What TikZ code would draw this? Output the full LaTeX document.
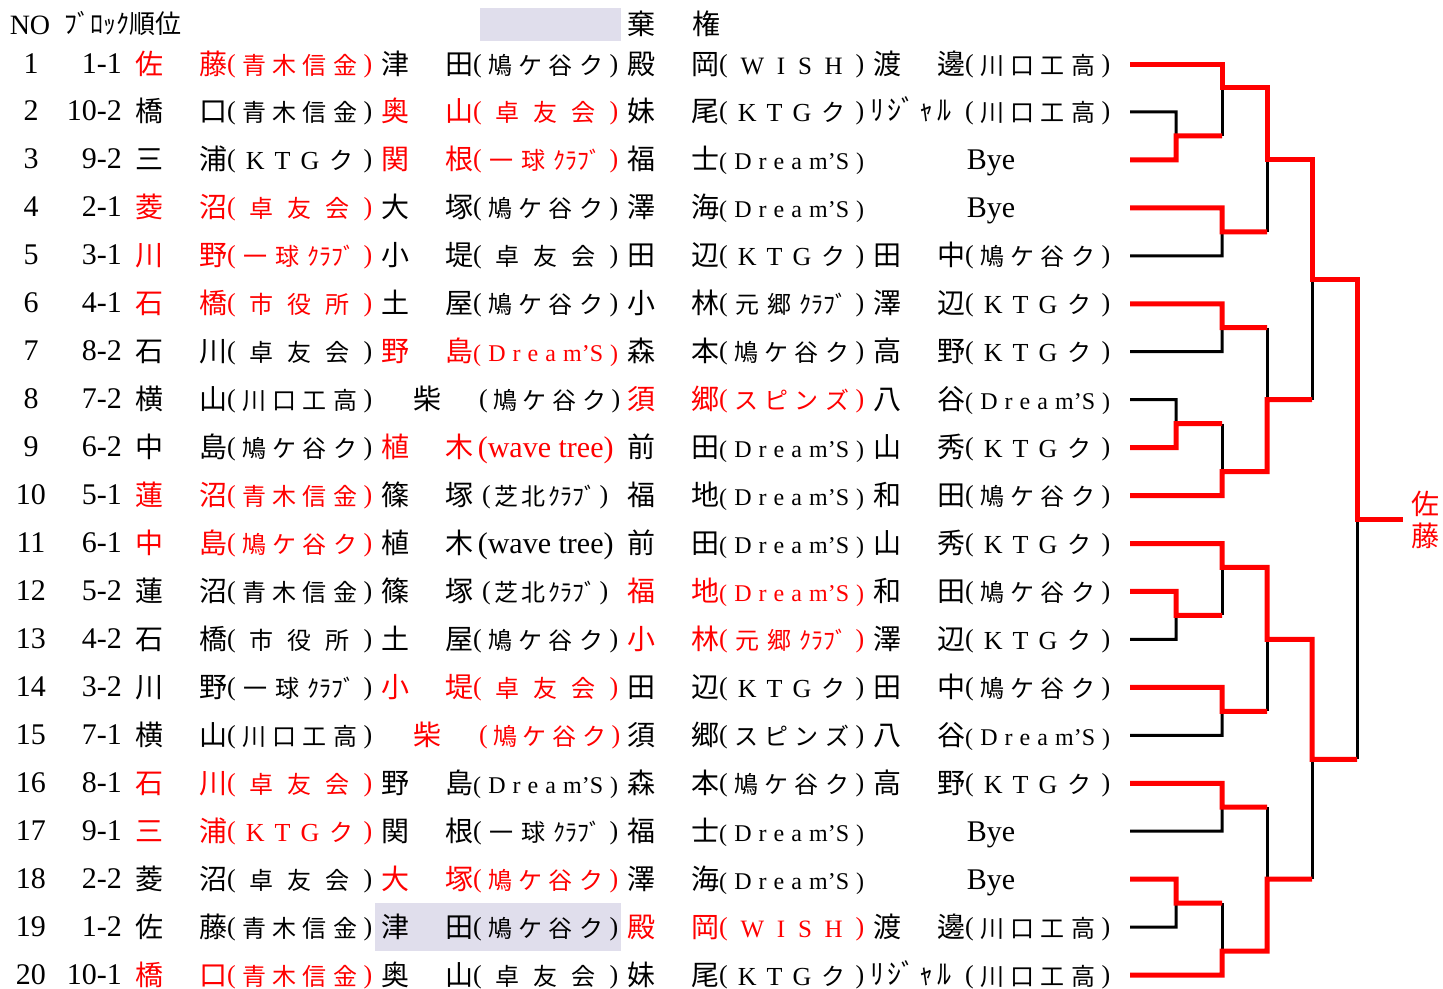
\documentclass[tikz,border=0pt]{standalone}
\usepackage{fontspec}
\setmainfont{Liberation Serif}
\newfontfamily\jp{Noto Sans CJK JP}
\newfontfamily\lat{Liberation Serif}
\definecolor{gbg}{RGB}{224,222,236}
\newcommand\LP{\raisebox{2pt}{\lat\fontsize{26pt}{28pt}\selectfont(}}
\newcommand\RP{\raisebox{2pt}{\lat\fontsize{26pt}{28pt}\selectfont)}}
\newcommand\hf{\hfill}
\newcommand\latx[1]{{\lat\fontsize{26pt}{28pt}\selectfont #1}}
\newcommand\latw[1]{{\lat\fontsize{25pt}{27pt}\selectfont #1}}
\newcommand\cAO{\LP\hf 青\hf 木\hf 信\hf 金\hf\RP}
\newcommand\cHA{\LP\hf 鳩\hf ケ\hf 谷\hf ク\hf\RP}
\newcommand\cTA{\LP\hf 卓\hf 友\hf 会\hf\RP}
\newcommand\cKT{\LP\hf\latx{K}\hf\latx{T}\hf\latx{G}\hf ク\hf\RP}
\newcommand\cIK{\LP\hf 一\hf 球\hf ｸﾗﾌﾞ\hf\RP}
\newcommand\cDR{{\lat\fontsize{24pt}{26pt}\selectfont (\hf D\hf r\hf e\hf a\hf m’S\hf)}}
\newcommand\cKW{\LP\hf 川\hf 口\hf 工\hf 高\hf\RP}
\newcommand\cWI{\LP\hf\latw{W}\hf\latw{I}\hf\latw{S}\hf\latw{H}\hf\RP}
\newcommand\cSH{\LP\hf 市\hf 役\hf 所\hf\RP}
\newcommand\cMO{\LP\hf 元\hf 郷\hf ｸﾗﾌﾞ\hf\RP}
\newcommand\cSP{\LP\hf ス\hf ピ\hf ン\hf ズ\hf\RP}
\newcommand\cSB{\hspace{9pt}\LP\hf 芝\hf 北\hf ｸﾗﾌﾞ\hf\RP\hspace{10pt}}
\newcommand\cWT{{\lat\fontsize{30pt}{32pt}\selectfont\hfil(wave tree)\hfil}}
\newcommand\K[1]{{64+23.975*#1}}
\newcommand\pl[6]{%
\node[nm,text=#3] (r#1c#2a) at ({149+246*(#2-1)},{74+47.95*(#1-1)}) {#4};
\node[nm,text=#3] (r#1c#2b) at ({213+246*(#2-1)},{74+47.95*(#1-1)}) {#5};
\node[clb,text=#3] (r#1c#2c) at ({227+246*(#2-1)},{74+47.95*(#1-1)}) {\hbox to 145pt{#6}};}
\newcommand\rw[2]{%
\node[num] (no#1) at (31,{73+47.95*(#1-1)}) {#1};
\node[num,anchor=base east] (bk#1) at (122,{73+47.95*(#1-1)}) {#2};
\coordinate (e#1) at (1130,{64+47.95*(#1-1)});}
\newcommand\bye[1]{\node[byef] (bye#1) at (991,{74+47.95*(#1-1)}) {Bye};}
\newcommand\rij[2]{%
\node[nm,text=#2] (r#1c4a) at (911,{73+47.95*(#1-1)}) {\hbox to 82pt{ﾘ\hfill ｼﾞ\hfill ｬ\hfill ﾙ}};
\node[clb,text=#2] (r#1c4c) at (965,{74+47.95*(#1-1)}) {\hbox to 145pt{\cKW}};}
\newcommand\shiba[2]{%
\node[nm,text=#2] (r#1c2a) at (427,{74+47.95*(#1-1)}) {柴};
\node[clb,text=#2] (r#1c2c) at (479,{74+47.95*(#1-1)}) {\hbox to 141pt{\cHA}};}
\begin{document}
\begin{tikzpicture}[x=1pt,y=-1pt,
  nm/.style={font=\jp\fontsize{28pt}{30pt}\selectfont, inner sep=0pt, anchor=base},
  clb/.style={font=\jp\fontsize{24pt}{26pt}\selectfont, inner sep=0pt, anchor=base west},
  num/.style={font=\lat\fontsize{30pt}{32pt}\selectfont, inner sep=0pt, anchor=base},
  byef/.style={font=\lat\fontsize{30pt}{32pt}\selectfont, inner sep=0pt, anchor=base},
  gbox/.style={fill=gbg, draw=none, inner sep=0pt},
  bk/.style={draw=black, line width=3pt, line join=miter},
  rd/.style={draw=red, line width=5pt, line join=miter}]
\useasboundingbox (0,0) rectangle (1443,988);
% shaded boxes
\node[gbox, minimum width=141pt, minimum height=33pt] (legend) at (550.5,24.5) {};
\node[gbox, minimum width=246pt, minimum height=48pt] (absent) at (498,{\K{36}}) {};
% header
\node[font=\lat\fontsize{28pt}{30pt}\selectfont, inner sep=0pt, anchor=base] (hno) at (30,34) {NO};
\node[font=\jp\fontsize{26pt}{28pt}\selectfont, inner sep=0pt, anchor=base west] (hblk) at (64,33) {ﾌﾞﾛｯｸ順位};
\node[nm] (hki) at (641,34) {棄};
\node[nm] (hken) at (706,34) {権};
% rows
\rw{1}{1-1}\pl{1}{1}{red}{佐}{藤}{\cAO}\pl{1}{2}{black}{津}{田}{\cHA}\pl{1}{3}{black}{殿}{岡}{\cWI}\pl{1}{4}{black}{渡}{邊}{\cKW}
\rw{2}{10-2}\pl{2}{1}{black}{橋}{口}{\cAO}\pl{2}{2}{red}{奥}{山}{\cTA}\pl{2}{3}{black}{妹}{尾}{\cKT}\rij{2}{black}
\rw{3}{9-2}\pl{3}{1}{black}{三}{浦}{\cKT}\pl{3}{2}{red}{関}{根}{\cIK}\pl{3}{3}{black}{福}{士}{\cDR}\bye{3}
\rw{4}{2-1}\pl{4}{1}{red}{菱}{沼}{\cTA}\pl{4}{2}{black}{大}{塚}{\cHA}\pl{4}{3}{black}{澤}{海}{\cDR}\bye{4}
\rw{5}{3-1}\pl{5}{1}{red}{川}{野}{\cIK}\pl{5}{2}{black}{小}{堤}{\cTA}\pl{5}{3}{black}{田}{辺}{\cKT}\pl{5}{4}{black}{田}{中}{\cHA}
\rw{6}{4-1}\pl{6}{1}{red}{石}{橋}{\cSH}\pl{6}{2}{black}{土}{屋}{\cHA}\pl{6}{3}{black}{小}{林}{\cMO}\pl{6}{4}{black}{澤}{辺}{\cKT}
\rw{7}{8-2}\pl{7}{1}{black}{石}{川}{\cTA}\pl{7}{2}{red}{野}{島}{\cDR}\pl{7}{3}{black}{森}{本}{\cHA}\pl{7}{4}{black}{高}{野}{\cKT}
\rw{8}{7-2}\pl{8}{1}{black}{横}{山}{\cKW}\shiba{8}{black}\pl{8}{3}{red}{須}{郷}{\cSP}\pl{8}{4}{black}{八}{谷}{\cDR}
\rw{9}{6-2}\pl{9}{1}{black}{中}{島}{\cHA}\pl{9}{2}{red}{植}{木}{\cWT}\pl{9}{3}{black}{前}{田}{\cDR}\pl{9}{4}{black}{山}{秀}{\cKT}
\rw{10}{5-1}\pl{10}{1}{red}{蓮}{沼}{\cAO}\pl{10}{2}{black}{篠}{塚}{\cSB}\pl{10}{3}{black}{福}{地}{\cDR}\pl{10}{4}{black}{和}{田}{\cHA}
\rw{11}{6-1}\pl{11}{1}{red}{中}{島}{\cHA}\pl{11}{2}{black}{植}{木}{\cWT}\pl{11}{3}{black}{前}{田}{\cDR}\pl{11}{4}{black}{山}{秀}{\cKT}
\rw{12}{5-2}\pl{12}{1}{black}{蓮}{沼}{\cAO}\pl{12}{2}{black}{篠}{塚}{\cSB}\pl{12}{3}{red}{福}{地}{\cDR}\pl{12}{4}{black}{和}{田}{\cHA}
\rw{13}{4-2}\pl{13}{1}{black}{石}{橋}{\cSH}\pl{13}{2}{black}{土}{屋}{\cHA}\pl{13}{3}{red}{小}{林}{\cMO}\pl{13}{4}{black}{澤}{辺}{\cKT}
\rw{14}{3-2}\pl{14}{1}{black}{川}{野}{\cIK}\pl{14}{2}{red}{小}{堤}{\cTA}\pl{14}{3}{black}{田}{辺}{\cKT}\pl{14}{4}{black}{田}{中}{\cHA}
\rw{15}{7-1}\pl{15}{1}{black}{横}{山}{\cKW}\shiba{15}{red}\pl{15}{3}{black}{須}{郷}{\cSP}\pl{15}{4}{black}{八}{谷}{\cDR}
\rw{16}{8-1}\pl{16}{1}{red}{石}{川}{\cTA}\pl{16}{2}{black}{野}{島}{\cDR}\pl{16}{3}{black}{森}{本}{\cHA}\pl{16}{4}{black}{高}{野}{\cKT}
\rw{17}{9-1}\pl{17}{1}{red}{三}{浦}{\cKT}\pl{17}{2}{black}{関}{根}{\cIK}\pl{17}{3}{black}{福}{士}{\cDR}\bye{17}
\rw{18}{2-2}\pl{18}{1}{black}{菱}{沼}{\cTA}\pl{18}{2}{red}{大}{塚}{\cHA}\pl{18}{3}{black}{澤}{海}{\cDR}\bye{18}
\rw{19}{1-2}\pl{19}{1}{black}{佐}{藤}{\cAO}\pl{19}{2}{black}{津}{田}{\cHA}\pl{19}{3}{red}{殿}{岡}{\cWI}\pl{19}{4}{black}{渡}{邊}{\cKW}
\rw{20}{10-1}\pl{20}{1}{red}{橋}{口}{\cAO}\pl{20}{2}{black}{奥}{山}{\cTA}\pl{20}{3}{black}{妹}{尾}{\cKT}\rij{20}{black}
% bracket: black lines
\draw[bk] (e2) -- (1176,\K{2}) -- (1176,\K{3});
\draw[bk] (1222,\K{1}) -- (1222,\K{3});
\draw[bk] (e5) -- (1222,\K{8}) -- (1222,\K{7});
\draw[bk] (1267,\K{4}) -- (1267,\K{7});
\draw[bk] (e7) -- (1222,\K{12}) -- (1222,\K{11});
\draw[bk] (e8) -- (1176,\K{14}) -- (1176,\K{15});
\draw[bk] (1222,\K{15}) -- (1222,\K{17});
\draw[bk] (1267,\K{11}) -- (1267,\K{14});
\draw[bk] (1312,\K{9}) -- (1312,\K{14});
\draw[bk] (e13) -- (1176,\K{24}) -- (1176,\K{23});
\draw[bk] (1222,\K{21}) -- (1222,\K{23});
\draw[bk] (e15) -- (1222,\K{28}) -- (1222,\K{27});
\draw[bk] (1267,\K{24}) -- (1267,\K{27});
\draw[bk] (e17) -- (1222,\K{32}) -- (1222,\K{31});
\draw[bk] (e19) -- (1176,\K{36}) -- (1176,\K{35});
\draw[bk] (1222,\K{35}) -- (1222,\K{37});
\draw[bk] (1267,\K{31}) -- (1267,\K{34});
\draw[bk] (1312,\K{29}) -- (1312,\K{34});
\draw[bk] (1357,\K{19}) -- (1357,\K{29});
% bracket: red lines
\draw[rd] (e1) -- (1222,\K{0}) -- (1222,\K{1}) -- (1267,\K{1}) -- (1267,\K{4}) -- (1312,\K{4}) -- (1312,\K{9}) -- (1357,\K{9}) -- (1357,\K{19}) -- (1403,\K{19});
\draw[rd] (e3) -- (1176,\K{4}) -- (1176,\K{3}) -- (1222,\K{3});
\draw[rd] (e4) -- (1222,\K{6}) -- (1222,\K{7}) -- (1267,\K{7});
\draw[rd] (e6) -- (1222,\K{10}) -- (1222,\K{11}) -- (1267,\K{11});
\draw[rd] (e9) -- (1176,\K{16}) -- (1176,\K{15}) -- (1222,\K{15});
\draw[rd] (e10) -- (1222,\K{18}) -- (1222,\K{17}) -- (1267,\K{17}) -- (1267,\K{14}) -- (1312,\K{14});
\draw[rd] (e11) -- (1222,\K{20}) -- (1222,\K{21}) -- (1267,\K{21}) -- (1267,\K{24}) -- (1312,\K{24}) -- (1312,\K{29}) -- (1357,\K{29});
\draw[rd] (e12) -- (1176,\K{22}) -- (1176,\K{23}) -- (1222,\K{23});
\draw[rd] (e14) -- (1222,\K{26}) -- (1222,\K{27}) -- (1267,\K{27});
\draw[rd] (e16) -- (1222,\K{30}) -- (1222,\K{31}) -- (1267,\K{31});
\draw[rd] (e18) -- (1176,\K{34}) -- (1176,\K{35}) -- (1222,\K{35});
\draw[rd] (e20) -- (1222,\K{38}) -- (1222,\K{37}) -- (1267,\K{37}) -- (1267,\K{34}) -- (1312,\K{34});
% champion
\node[nm,text=red] (win1) at (1425,514) {佐};
\node[nm,text=red] (win2) at (1425,546) {藤};
\end{tikzpicture}
\end{document}
